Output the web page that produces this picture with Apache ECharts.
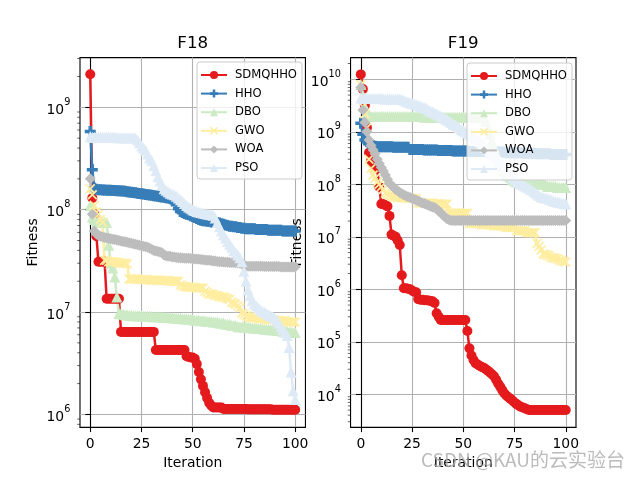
<!DOCTYPE html>
<html><head><meta charset="utf-8">
<script src="https://cdn.jsdelivr.net/npm/echarts@6/dist/echarts.min.js"></script>
<style>html,body{margin:0;padding:0;background:#fff}#c{width:640px;height:480px}</style>
</head><body><div id="c"></div>
<script>
// ---------------- DATA ----------------
const iterations = Array.from({length: 101}, (_, i) => i);
const names = ['SDMQHHO', 'HHO', 'DBO', 'GWO', 'WOA', 'PSO'];
const titles = ['F18', 'F19'];
const xTicks = [0, 25, 50, 75, 100];
const yTicksF18 = [1e6, 1e7, 1e8, 1e9];
const yTicksF19 = [1e4, 1e5, 1e6, 1e7, 1e8, 1e9, 1e10];

const f18_SDMQHHO = [
2.1e9,1.3e8,9e7,5.5e7,3.1e7,3.1e7,3.1e7,3.1e7,1.35e7,1.35e7,
1.35e7,1.35e7,1.35e7,1.35e7,1.35e7,6.4e6,6.4e6,6.4e6,6.4e6,6.4e6,
6.4e6,6.4e6,6.4e6,6.4e6,6.4e6,6.4e6,6.4e6,6.4e6,6.4e6,6.4e6,
6.4e6,6.4e6,4.25e6,4.25e6,4.25e6,4.25e6,4.25e6,4.25e6,4.25e6,4.25e6,
4.25e6,4.25e6,4.25e6,4.25e6,4.25e6,4.25e6,4.25e6,3.7e6,3.65e6,3.6e6,
3.6e6,3.5e6,3.1e6,2.6e6,2.2e6,1.9e6,1.65e6,1.45e6,1.3e6,1.22e6,
1.17e6,1.17e6,1.17e6,1.17e6,1.17e6,1.13e6,1.13e6,1.13e6,1.13e6,1.13e6,
1.13e6,1.13e6,1.13e6,1.13e6,1.13e6,1.13e6,1.13e6,1.12e6,1.12e6,1.12e6,
1.12e6,1.12e6,1.12e6,1.12e6,1.12e6,1.12e6,1.12e6,1.12e6,1.12e6,1.11e6,
1.11e6,1.11e6,1.11e6,1.11e6,1.11e6,1.11e6,1.11e6,1.11e6,1.11e6,1.11e6,
1.11e6];
const f18_HHO = [
5.8e8,2.45e8,1.62e8,1.58e8,1.57e8,1.57e8,1.56e8,1.56e8,1.55e8,1.55e8,
1.55e8,1.54e8,1.54e8,1.53e8,1.53e8,1.52e8,1.52e8,1.51e8,1.5e8,1.49e8,
1.48e8,1.47e8,1.46e8,1.45e8,1.44e8,1.43e8,1.42e8,1.41e8,1.4e8,1.39e8,
1.38e8,1.37e8,1.36e8,1.35e8,1.34e8,1.33e8,1.32e8,1.31e8,1.3e8,1.28e8,
1.25e8,1.22e8,1.12e8,1.02e8,9.6e7,9.4e7,9.2e7,9e7,8.9e7,8.7e7,
8.6e7,8.4e7,8.2e7,8e7,7.9e7,7.8e7,7.8e7,7.7e7,7.7e7,7.6e7,
7.6e7,7.5e7,7.5e7,7.4e7,7.3e7,7.2e7,7.1e7,7e7,6.9e7,6.9e7,
6.8e7,6.8e7,6.7e7,6.7e7,6.6e7,6.6e7,6.5e7,6.5e7,6.5e7,6.5e7,
6.5e7,6.4e7,6.4e7,6.4e7,6.4e7,6.4e7,6.4e7,6.3e7,6.3e7,6.3e7,
6.3e7,6.3e7,6.3e7,6.3e7,6.2e7,6.2e7,6.2e7,6.2e7,6.2e7,6.2e7,
6.2e7];
const f18_DBO = [
1.1e8,8.5e7,8e7,7.5e7,7.5e7,7.5e7,7.5e7,7.5e7,7.5e7,4.5e7,
3e7,2.7e7,2.2e7,1.4e7,9.7e6,9.6e6,9.5e6,9.4e6,9.4e6,9.3e6,
9.3e6,9.2e6,9.2e6,9.2e6,9.2e6,9.2e6,9.1e6,9.1e6,9.1e6,9.1e6,
9.1e6,9.0e6,9.0e6,9.0e6,9.0e6,9.0e6,8.9e6,8.9e6,8.9e6,8.8e6,
8.8e6,8.8e6,8.7e6,8.7e6,8.7e6,8.6e6,8.6e6,8.6e6,8.5e6,8.5e6,
8.5e6,8.3e6,8.3e6,8.3e6,8.2e6,8.2e6,8.2e6,8.1e6,8.1e6,8.1e6,
8.0e6,8.0e6,8.0e6,7.8e6,7.8e6,7.8e6,7.6e6,7.6e6,7.6e6,7.4e6,
7.4e6,7.4e6,7.2e6,7.2e6,7.2e6,7.2e6,7.1e6,7.1e6,7.1e6,7.0e6,
7.0e6,7.0e6,6.9e6,6.9e6,6.9e6,6.8e6,6.8e6,6.8e6,6.7e6,6.7e6,
6.7e6,6.6e6,6.6e6,6.6e6,6.5e6,6.5e6,6.5e6,6.4e6,6.4e6,6.3e6,
6.3e6];
const f18_GWO = [
1.6e8,1.4e8,1.1e8,9.5e7,9e7,8e7,7.5e7,3.2e7,3.2e7,3.1e7,
3.1e7,3.1e7,3.1e7,3.05e7,3.05e7,3e7,3e7,3e7,2.95e7,2.1e7,
2.1e7,2.1e7,2.1e7,2.1e7,2.08e7,2.08e7,2.08e7,2.08e7,2.08e7,2.05e7,
2.05e7,2.05e7,2.05e7,2.05e7,2.03e7,2.03e7,2.03e7,2.03e7,2.03e7,2.0e7,
2.0e7,2.0e7,2.0e7,2.0e7,1.85e7,1.8e7,1.78e7,1.76e7,1.75e7,1.75e7,
1.75e7,1.75e7,1.72e7,1.72e7,1.72e7,1.72e7,1.6e7,1.55e7,1.5e7,1.5e7,
1.48e7,1.45e7,1.45e7,1.42e7,1.4e7,1.4e7,1.38e7,1.35e7,1.33e7,1.25e7,
1.22e7,1.2e7,1.15e7,1.1e7,9.8e6,9.5e6,9.2e6,9e6,8.8e6,8.8e6,
8.8e6,8.8e6,8.6e6,8.6e6,8.6e6,8.6e6,8.4e6,8.4e6,8.4e6,8.4e6,
8.4e6,8.2e6,8.2e6,8.2e6,8.2e6,8.2e6,8.0e6,8.0e6,8.0e6,8.0e6,
8.0e6];
const f18_WOA = [
2.0e8,9e7,6.2e7,5.8e7,5.6e7,5.5e7,5.4e7,5.35e7,5.3e7,5.25e7,
5.2e7,5.15e7,5.1e7,5.05e7,5e7,4.95e7,4.9e7,4.85e7,4.8e7,4.75e7,
4.7e7,4.65e7,4.6e7,4.55e7,4.5e7,4.45e7,4.4e7,4.35e7,4.3e7,4.2e7,
4.1e7,4.0e7,3.95e7,3.9e7,3.85e7,3.8e7,3.6e7,3.55e7,3.5e7,3.5e7,
3.45e7,3.45e7,3.42e7,3.4e7,3.4e7,3.38e7,3.36e7,3.35e7,3.35e7,3.33e7,
3.32e7,3.3e7,3.3e7,3.28e7,3.26e7,3.25e7,3.22e7,3.2e7,3.2e7,3.18e7,
3.16e7,3.15e7,3.12e7,3.1e7,3.1e7,3.08e7,3.07e7,3.06e7,3.05e7,3.05e7,
3.04e7,3.03e7,3.02e7,3e7,2.95e7,2.88e7,2.82e7,2.8e7,2.8e7,2.8e7,
2.8e7,2.8e7,2.8e7,2.8e7,2.8e7,2.78e7,2.78e7,2.78e7,2.78e7,2.78e7,
2.78e7,2.78e7,2.78e7,2.76e7,2.76e7,2.76e7,2.76e7,2.76e7,2.76e7,2.76e7,
2.76e7];
const f18_PSO = [
5.2e8,5.1e8,5.1e8,5.1e8,5.1e8,5.1e8,5.1e8,5.1e8,5.1e8,5.1e8,
5.1e8,5.1e8,5.1e8,5.05e8,5.05e8,5.05e8,5.05e8,5.05e8,5.05e8,5.05e8,
5.05e8,5.05e8,5.05e8,4.8e8,4.5e8,4.2e8,4e8,3.8e8,3.5e8,3.2e8,
3e8,2.7e8,2.4e8,2.1e8,1.9e8,1.75e8,1.6e8,1.55e8,1.5e8,1.45e8,
1.42e8,1.4e8,1.35e8,1.3e8,1.25e8,1.2e8,1.15e8,1.1e8,1.06e8,1.03e8,
1e8,9.8e7,9.6e7,9.5e7,9.4e7,9.3e7,9.2e7,9.1e7,9e7,8.9e7,
8.8e7,8.3e7,7.5e7,6.8e7,6.2e7,5.7e7,5.3e7,4.9e7,4.6e7,4.3e7,
4e7,3.8e7,3.6e7,3.4e7,3.1e7,2.5e7,2.0e7,1.65e7,1.45e7,1.3e7,
1.2e7,1.15e7,1.1e7,1.05e7,1.02e7,1e7,9.7e6,9.4e6,9.2e6,9e6,
8.7e6,8.3e6,7.8e6,7.2e6,6.7e6,6.3e6,5.9e6,4.5e6,2.6e6,1.7e6,
1.4e6];

const f19_SDMQHHO = [
1.24e10,6.5e9,3.2e9,1.2e9,4e8,2.8e8,2.4e8,2.2e8,2e8,9e7,
4.2e7,4.2e7,4e7,3.8e7,2.5e7,1.1e7,1.05e7,1e7,8.5e6,7e6,
1.85e6,1.05e6,1.05e6,1.02e6,1e6,9.5e5,9e5,8.8e5,6.5e5,6.3e5,
6.3e5,6.2e5,6.2e5,6.1e5,6e5,5.9e5,5.5e5,3.5e5,3e5,2.6e5,
2.6e5,2.6e5,2.6e5,2.6e5,2.6e5,2.6e5,2.6e5,2.6e5,2.6e5,2.6e5,
2.6e5,2.6e5,1.6e5,7.5e4,5.5e4,4.5e4,3.9e4,3.7e4,3.5e4,3.3e4,
3.2e4,3e4,2.8e4,2.6e4,2.4e4,2.2e4,1.9e4,1.6e4,1.4e4,1.2e4,
1.05e4,9.5e3,8.8e3,8.2e3,7.6e3,7e3,6.5e3,6.1e3,5.8e3,5.6e3,
5.4e3,5.2e3,5e3,5e3,5e3,5e3,5e3,5e3,5e3,5e3,
5e3,5e3,5e3,5e3,5e3,5e3,5e3,5e3,5e3,5e3,
5e3];
const f19_HHO = [
1.45e9,9e8,7e8,6.5e8,6e8,5.5e8,5.4e8,5.3e8,5.2e8,5.2e8,
5.2e8,5.2e8,5.2e8,5.2e8,5.2e8,5.2e8,5.1e8,5.1e8,5.1e8,5.1e8,
5.1e8,5.1e8,5.1e8,5.1e8,4.6e8,4.6e8,4.6e8,4.6e8,4.6e8,4.6e8,
4.6e8,4.5e8,4.5e8,4.5e8,4.5e8,4.5e8,4.5e8,4.5e8,4.4e8,4.4e8,
4.4e8,4.4e8,4.4e8,4.4e8,4.4e8,4.3e8,4.3e8,4.3e8,4.3e8,4.3e8,
4.3e8,4.3e8,4.3e8,4.2e8,4.2e8,4.2e8,4.2e8,4.2e8,4.2e8,4.2e8,
4.2e8,4.2e8,4.1e8,4.1e8,4.1e8,4.1e8,4.1e8,4.1e8,4.1e8,4.1e8,
4.1e8,4.0e8,4.0e8,4.0e8,4.0e8,4.0e8,4.0e8,4.0e8,4.0e8,3.9e8,
3.9e8,3.9e8,3.9e8,3.9e8,3.9e8,3.9e8,3.8e8,3.8e8,3.8e8,3.8e8,
3.8e8,3.8e8,3.8e8,3.7e8,3.7e8,3.7e8,3.7e8,3.7e8,3.7e8,3.7e8,
3.7e8];
const f19_DBO = [
8e9,5e9,3e9,2.4e9,2.1e9,1.95e9,1.95e9,1.95e9,1.95e9,1.95e9,
1.95e9,1.95e9,1.95e9,1.95e9,1.95e9,1.95e9,1.95e9,1.95e9,1.95e9,1.95e9,
1.95e9,1.95e9,1.95e9,1.95e9,1.95e9,1.95e9,1.95e9,1.95e9,1.95e9,1.95e9,
1.95e9,1.9e9,1.9e9,1.9e9,1.9e9,1.9e9,1.9e9,1.9e9,1.9e9,1.9e9,
1.9e9,1.9e9,1.9e9,1.9e9,1.9e9,1.9e9,1.9e9,1.9e9,1.9e9,1.9e9,
1.9e9,1.9e9,1.9e9,1.9e9,1.9e9,1.9e9,1.9e9,1.9e9,1.9e9,1.9e9,
1.9e9,1.6e9,1.2e9,9e8,6.5e8,5e8,4e8,3.2e8,2.6e8,2.1e8,
1.8e8,1.6e8,1.45e8,1.35e8,1.25e8,1.15e8,1.1e8,1.1e8,1.1e8,1.1e8,
1.1e8,1e8,1e8,1e8,1e8,1e8,1e8,1e8,1e8,1e8,
1e8,9.2e7,9.2e7,9.2e7,9.2e7,9.2e7,8.7e7,8.7e7,8.7e7,8.7e7,
8.7e7];
const f19_GWO = [
8e9,3e9,2.2e9,1.2e9,3e8,2e8,1.5e8,1.3e8,1.1e8,1e8,
9e7,8e7,6.8e7,6.5e7,6.2e7,6e7,5.8e7,5.7e7,5.6e7,5.6e7,
5.5e7,5.5e7,5.5e7,5.4e7,5.4e7,5.4e7,5.3e7,5.3e7,4.4e7,4.4e7,
4.4e7,4.4e7,4.4e7,4.4e7,4.4e7,4.4e7,4.2e7,4.2e7,4.2e7,4.2e7,
4.2e7,4.2e7,4.2e7,2.8e7,2.8e7,2.8e7,2.8e7,2.8e7,2.8e7,2.8e7,
2.8e7,2.8e7,2.8e7,1.8e7,1.8e7,1.8e7,1.8e7,1.8e7,1.8e7,1.7e7,
1.7e7,1.7e7,1.7e7,1.7e7,1.7e7,1.6e7,1.6e7,1.6e7,1.6e7,1.6e7,
1.6e7,1.5e7,1.5e7,1.5e7,1.5e7,1.5e7,1.3e7,1.3e7,1.3e7,1.3e7,
1.3e7,1.2e7,1.2e7,1.2e7,1.2e7,1.2e7,7.5e6,6.5e6,5.6e6,4.7e6,
4.6e6,4.5e6,4.3e6,4e6,4e6,3.9e6,3.8e6,3.6e6,3.5e6,3.4e6,
3.3e6];
const f19_WOA = [
7e9,2.6e9,1.5e9,1e9,7e8,5.5e8,4.5e8,3.8e8,3e8,2.5e8,
2.1e8,1.8e8,1.5e8,1.25e8,1.05e8,9.5e7,8.8e7,8e7,7.5e7,7e7,
6.6e7,6.3e7,6e7,5.8e7,5.6e7,5.4e7,5.2e7,5e7,4.8e7,4.6e7,
4.4e7,4.3e7,4.1e7,4e7,3.8e7,3.7e7,3.6e7,3.4e7,3.1e7,2.9e7,
2.6e7,2.4e7,2.2e7,2.1e7,2.05e7,2.05e7,2.05e7,2.05e7,2.05e7,2.05e7,
2.05e7,2.05e7,2.05e7,2.05e7,2.05e7,2.05e7,2.05e7,2.05e7,2.05e7,2.05e7,
2.05e7,2.05e7,2.05e7,2.05e7,2.05e7,2.05e7,2.05e7,2.05e7,2.05e7,2.05e7,
2.05e7,2.05e7,2.05e7,2.05e7,2.05e7,2.05e7,2.05e7,2.05e7,2.05e7,2.05e7,
2.05e7,2.05e7,2.05e7,2.05e7,2.05e7,2.05e7,2.05e7,2.05e7,2.05e7,2.05e7,
2.05e7,2.05e7,2.05e7,2.05e7,2.05e7,2.05e7,2.05e7,2.05e7,2.05e7,2.05e7,
2.05e7];
const f19_PSO = [
4.4e9,4.3e9,4.3e9,4.3e9,4.3e9,4.3e9,4.3e9,4.3e9,4.3e9,4.3e9,
4.3e9,4.2e9,4.2e9,4.2e9,4.2e9,4.2e9,4.2e9,4.2e9,4.2e9,4.2e9,
4.1e9,4e9,3.8e9,3.7e9,3.6e9,3.5e9,3.4e9,3.3e9,3.2e9,3.1e9,
3e9,2.9e9,2.8e9,2.6e9,2.5e9,2.4e9,2.3e9,2.2e9,2.1e9,2e9,
1.9e9,1.8e9,1.7e9,1.6e9,1.5e9,1.4e9,1.35e9,1.3e9,1.2e9,1.1e9,
1.05e9,1e9,9.5e8,9e8,8.5e8,8e8,7.5e8,7e8,6.5e8,6e8,
5.5e8,5e8,4.6e8,4.2e8,3.9e8,3.6e8,3.3e8,3e8,2.7e8,2.4e8,
2.1e8,1.9e8,1.7e8,1.5e8,1.35e8,1.25e8,1.15e8,1.08e8,1.02e8,9.7e7,
9.3e7,8.9e7,8.5e7,8e7,7.5e7,7e7,6.5e7,6.1e7,5.8e7,5.6e7,
5.5e7,5.4e7,5.2e7,5e7,4.8e7,4.7e7,4.6e7,4.5e7,4.4e7,4.3e7,
4.2e7];

// ---------------- STYLE ----------------
const FONT = 'DejaVu Sans';
const colors = ['#e41a1c', '#377eb8', '#ccebc5', '#ffeda0', '#bdbdbd', '#deebf7'];
const symbols = [
  'circle',
  'path://M3.4,0H6.6V10H3.4Z M0,3.4H10V6.6H0Z',
  'triangle',
  'path://M1.2,0L5,3.8L8.8,0L10,1.2L6.2,5L10,8.8L8.8,10L5,6.2L1.2,10L0,8.8L3.8,5L0,1.2Z',
  'diamond',
  'triangle'
];
const symSizes = [10, 11, 11, 10, 11, 11];

const GW = 225.45, GH = 369.6, GT = 57.6;
const gridLefts = [80, 350.55];
const yRanges = [[7.5e5, 3.06e9], [2.36e3, 2.59e10]];
const yTicks = [yTicksF18, yTicksF19];
const yNameGaps = [40, 46.5];

function minorList(r) {
  const out = [];
  for (let n = Math.floor(Math.log10(r[0])); n <= Math.ceil(Math.log10(r[1])); n++) {
    for (let k = 2; k <= 9; k++) {
      const v = k * Math.pow(10, n);
      if (v > r[0] && v < r[1]) out.push(v);
    }
  }
  return out;
}

const sets = [
  [f18_SDMQHHO, f18_HHO, f18_DBO, f18_GWO, f18_WOA, f18_PSO],
  [f19_SDMQHHO, f19_HHO, f19_DBO, f19_GWO, f19_WOA, f19_PSO]
];

const series = [];
sets.forEach((set, p) => {
  set.forEach((arr, k) => {
    series.push({
      type: 'line', name: names[k], xAxisIndex: p, yAxisIndex: p,
      data: iterations.map((x, i) => [x, arr[i]]),
      symbol: symbols[k], symbolSize: symSizes[k], showAllSymbol: true,
      lineStyle: {color: colors[k], width: 2.5},
      itemStyle: {color: colors[k], borderWidth: 0},
      emphasis: {disabled: true}, animation: false, z: 2
    });
  });
  series.push({
    type: 'custom', name: 'minor' + p, xAxisIndex: p, yAxisIndex: p,
    data: minorList(yRanges[p]).map(v => [-5, v]),
    encode: {x: 0, y: 1}, clip: false, silent: true, animation: false, z: 5,
    renderItem: (params, api) => {
      const pt = api.coord([api.value(0), api.value(1)]);
      return {type: 'line', shape: {x1: pt[0] - 2.8, y1: pt[1], x2: pt[0], y2: pt[1]},
              style: {stroke: '#000', lineWidth: 0.6}};
    }
  });
});

const option = {
  backgroundColor: '#fff',
  animation: false,
  title: titles.map((t, p) => ({
    text: t, left: gridLefts[p] + GW / 2, top: 35, textAlign: 'center', padding: 0,
    textStyle: {fontSize: 16.7, fontWeight: 'normal', fontFamily: FONT, color: '#000'}
  })),
  grid: gridLefts.map(l => ({left: l, top: GT, width: GW, height: GH, show: true,
    borderColor: '#000', borderWidth: 1.1, backgroundColor: '#fff'})),
  legend: gridLefts.map((l, p) => ({
    data: names, orient: 'vertical', left: p ? 467 : 197, top: p ? 63 : 62,
    itemWidth: 26, itemHeight: 10, itemGap: 4.6,
    padding: [6, 5, 4, 3], backgroundColor: 'rgba(255,255,255,0.8)',
    borderColor: '#cccccc', borderWidth: 1, borderRadius: 3,
    selectedMode: false, z: 10,
    textStyle: {fontSize: 11.6, fontFamily: FONT, color: '#000', lineHeight: 14, padding: [0, 0, 0, 3]}
  })),
  xAxis: gridLefts.map((l, p) => ({
    gridIndex: p, type: 'value', min: -5, max: 105,
    name: 'Iteration', nameLocation: 'middle', nameGap: 29,
    nameTextStyle: {fontSize: 13.9, fontFamily: FONT, color: '#000'},
    axisLine: {show: true, onZero: false, lineStyle: {color: '#000', width: 1.1}},
    axisTick: {show: true, customValues: xTicks, length: 4.9, lineStyle: {color: '#000', width: 1.1}},
    axisLabel: {customValues: xTicks, margin: 9.7, fontSize: 13.9, fontFamily: FONT, color: '#000'},
    splitLine: {show: true, lineStyle: {color: '#b0b0b0', width: 1.1}}
  })),
  yAxis: gridLefts.map((l, p) => ({
    gridIndex: p, type: 'log', logBase: 10, min: yRanges[p][0], max: yRanges[p][1],
    name: 'Fitness', nameLocation: 'middle', nameGap: yNameGaps[p],
    nameTextStyle: {fontSize: 13.9, fontFamily: FONT, color: '#000'},
    axisLine: {show: true, lineStyle: {color: '#000', width: 1.1}},
    axisTick: {show: true, customValues: yTicks[p], length: 4.9, lineStyle: {color: '#000', width: 1.1}},
    axisLabel: {
      customValues: yTicks[p], margin: 9.7, color: '#000', fontFamily: FONT,
      formatter: v => '{b|10}{e|' + Math.round(Math.log10(v)) + '}',
      rich: {
        b: {fontSize: 13.9, fontFamily: FONT, color: '#000', lineHeight: 20, verticalAlign: 'bottom'},
        e: {fontSize: 9.7, fontFamily: FONT, color: '#000', lineHeight: 20, verticalAlign: 'top'}
      }
    },
    splitLine: {show: true, lineStyle: {color: '#b0b0b0', width: 1.1}}
  })),
  graphic: [{
    type: 'text', left: 421, top: 450, z: 100,
    style: {text: 'CSDN @KAU的云实验台', fontSize: 19, fontFamily: 'Noto Sans CJK SC',
            fill: 'rgba(170,170,170,0.8)'}
  }],
  series: series
};

const chart = echarts.init(document.getElementById('c'), null, {renderer: 'canvas'});
chart.setOption(option);
</script>
</body></html>
